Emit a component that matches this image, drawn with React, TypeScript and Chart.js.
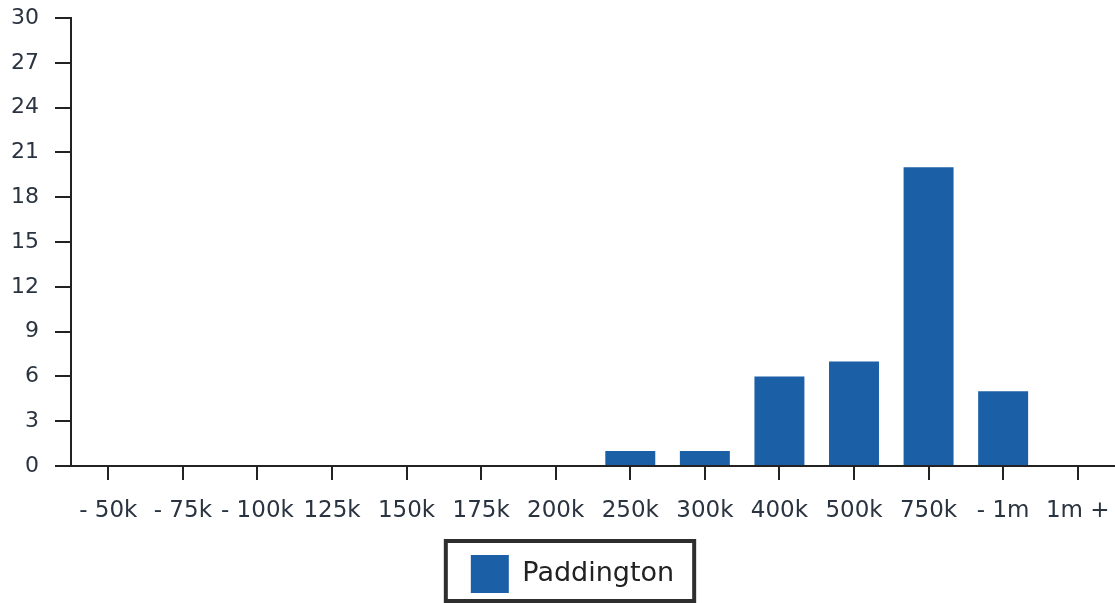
import React, { useEffect, useRef } from "react";
import { Chart, registerables } from "chart.js";

Chart.register(...registerables);

const categories = [
  "- 50k", "- 75k", "- 100k", "125k", "150k", "175k", "200k",
  "250k", "300k", "400k", "500k", "750k", "- 1m", "1m +",
];
const paddington = [0, 0, 0, 0, 0, 0, 0, 1, 1, 6, 7, 20, 5, 0];
const seriesName = "Paddington";
const yMin = 0;
const yMax = 30;
const yStep = 3;

const legendFrame = {
  id: "legendFrame",
  afterLayout(chart: any) {
    if (chart.legend) chart.legend.left += 30;
  },
  afterDraw(chart: any) {
    const lg = chart.legend;
    if (!lg || !lg.legendHitBoxes || !lg.legendHitBoxes.length) return;
    const hb = lg.legendHitBoxes[0];
    const ctx = chart.ctx;
    ctx.save();
    ctx.strokeStyle = "#2e2e2e";
    ctx.lineWidth = 4;
    const l = hb.left - 25;
    const r = hb.left + hb.width + 20;
    const t = hb.top - 14;
    const b = hb.top + hb.height + 8;
    ctx.strokeRect(l, t, r - l, b - t);
    ctx.restore();
  },
};

export default function App() {
  const ref = useRef<HTMLCanvasElement | null>(null);
  useEffect(() => {
    if (!ref.current) return;
    const chart = new Chart(ref.current, {
      type: "bar",
      data: {
        labels: categories,
        datasets: [
          {
            label: seriesName,
            data: paddington,
            backgroundColor: "#1b5fa7",
            borderWidth: 0,
            barPercentage: 0.67,
            categoryPercentage: 1,
          },
        ],
      },
      options: {
        animation: false,
        responsive: false,
        maintainAspectRatio: false,
        layout: { padding: { top: 18, left: 0, right: 0, bottom: 0 } },
        plugins: {
          tooltip: { enabled: false },
          legend: {
            position: "bottom",
            labels: {
              boxWidth: 38,
              boxHeight: 38,
              padding: 10,
              color: "#222",
              font: { family: "DejaVu Sans", size: 27 },
            },
          },
        },
        scales: {
          x: {
            offset: true,
            grid: {
              offset: false,
              drawOnChartArea: false,
              drawTicks: true,
              tickLength: 14,
              color: "#222",
              lineWidth: 2,
            },
            border: { display: true, color: "#222", width: 2 },
            ticks: {
              color: "#2a3440",
              padding: 17,
              maxRotation: 0,
              autoSkip: false,
              font: { family: "DejaVu Sans", size: 23 },
            },
            afterFit: (s: any) => {
              s.height = 79;
              s.paddingLeft = 0;
              s.paddingRight = 0;
            },
          },
          y: {
            min: yMin,
            max: yMax,
            grid: {
              drawOnChartArea: false,
              drawTicks: true,
              tickLength: 16,
              color: "#222",
              lineWidth: 2,
            },
            border: { display: true, color: "#222", width: 2 },
            ticks: {
              stepSize: yStep,
              color: "#2a3440",
              padding: 16,
              font: { family: "DejaVu Sans", size: 22 },
            },
            afterFit: (s: any) => {
              s.width = 71;
              s.paddingTop = 0;
              s.paddingBottom = 0;
            },
          },
        },
      },
      plugins: [legendFrame],
    });
    return () => chart.destroy();
  }, []);
  return (
    <div style={{ position: "absolute", left: 0, top: 0, width: 1115, height: 603, background: "#fff" }}>
      <canvas ref={ref} width={1115} height={603} style={{ display: "block" }} />
    </div>
  );
}
